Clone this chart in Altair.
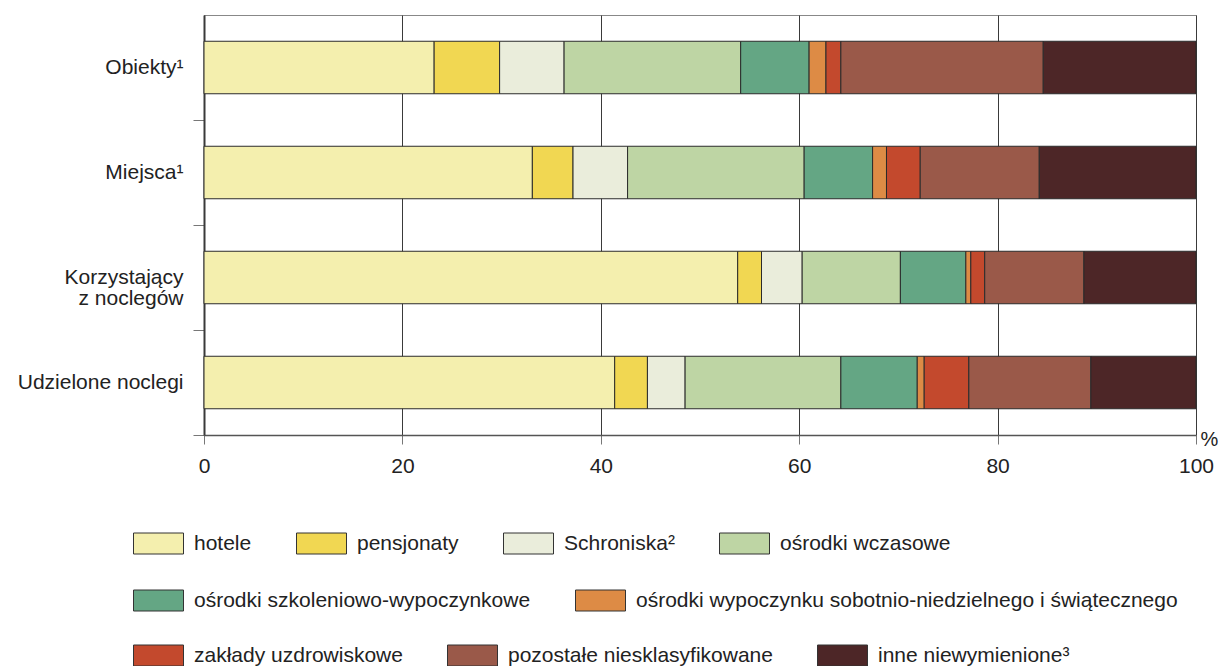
import altair as alt
import pandas as pd

categories = ["Obiekty¹", "Miejsca¹", "Korzystający\nz noclegów", "Udzielone noclegi"]
types = [
    "hotele",
    "pensjonaty",
    "Schroniska²",
    "ośrodki wczasowe",
    "ośrodki szkoleniowo-wypoczynkowe",
    "ośrodki wypoczynku sobotnio-niedzielnego i świątecznego",
    "zakłady uzdrowiskowe",
    "pozostałe niesklasyfikowane",
    "inne niewymienione³",
]
colors = ["#F4EFAE", "#F1D752", "#EAEDDB", "#BED5A4", "#64A684",
          "#DD8B45", "#C3492D", "#9A5949", "#4D2627"]

# shares (%) per category: Obiekty, Miejsca, Korzystający, Udzielone noclegi
hotele = [23.2, 33.1, 53.8, 41.4]
pensjonaty = [6.6, 4.1, 2.4, 3.3]
schroniska = [6.5, 5.5, 4.1, 3.8]
wczasowe = [17.8, 17.8, 9.9, 15.7]
szkoleniowe = [6.9, 6.9, 6.6, 7.7]
sobotnie = [1.7, 1.4, 0.5, 0.7]
uzdrowiskowe = [1.5, 3.4, 1.4, 4.5]
pozostale = [20.4, 12.0, 10.0, 12.3]
inne = [15.4, 15.8, 11.3, 10.6]
series = [hotele, pensjonaty, schroniska, wczasowe, szkoleniowe,
          sobotnie, uzdrowiskowe, pozostale, inne]

legend_groups = [[0, 1, 2, 3], [4, 5], [6, 7, 8]]
x_ticks = [0, 20, 40, 60, 80, 100]

rows = []
for ti, (t, vals) in enumerate(zip(types, series)):
    grp = [g for g, members in enumerate(legend_groups) if ti in members][0]
    for c, v in zip(categories, vals):
        rows.append({"kategoria": c, "typ": t, "udzial": v, "kolejnosc": ti, "grupa": grp})
df = pd.DataFrame(rows)

FONT = "Liberation Sans"
TXT = "#222222"
FS = 21

x_axis = alt.Axis(
    values=x_ticks, grid=True, gridColor="#3a3a3a", gridWidth=1,
    tickSize=9, tickColor="#777777", domainColor="#555555", domainWidth=1.5,
    labelFontSize=FS, labelPadding=11, labelColor=TXT, labelFlush=False,
    title="%", titleAngle=0, titleX=1005, titleY=4, titleBaseline="middle",
    titleAlign="center", titleFontWeight="normal", titleFontSize=20, titleColor=TXT,
)
y_axis = alt.Axis(
    title=None, labelExpr="split(datum.label, '\\n')", labelFontSize=FS,
    labelPadding=10, tickBand="center", tickOffset=52.5, labelOffset=-52.5,
    tickSize=11, tickColor="#777777",
    domainColor="#3a3a3a", domainWidth=2, labelColor=TXT, labelLimit=300,
    labelLineHeight=21, grid=False,
)

symbol_path = "M-1,-0.42H1V0.42H-1Z"
legend_x = -71
legend_ys = [503, 560, 615]

base = alt.Chart(df).transform_stack(
    stack="udzial", groupby=["kategoria"], as_=["x0", "x1"],
    sort=[alt.SortField("kolejnosc", order="ascending")],
)

layers = []
for g, members in enumerate(legend_groups):
    row_types = [types[i] for i in members]
    row_colors = [colors[i] for i in members]
    layer = base.transform_filter(alt.datum.grupa == g).mark_bar(
        stroke="#2b2b2b", strokeWidth=1
    ).encode(
        x=alt.X("x0:Q", scale=alt.Scale(domain=[0, 100], nice=False), axis=x_axis),
        x2="x1:Q",
        y=alt.Y("kategoria:N", sort=categories,
                scale=alt.Scale(paddingInner=0.5, paddingOuter=0.25), axis=y_axis),
        color=alt.Color(
            "typ:N",
            scale=alt.Scale(domain=row_types, range=row_colors),
            legend=alt.Legend(
                title=None, orient="none", legendX=legend_x, legendY=legend_ys[g],
                direction="horizontal", columns=len(row_types), gridAlign="none",
                columnPadding=42, padding=0, symbolType=symbol_path, symbolSize=2500,
                symbolStrokeColor="#333333", symbolStrokeWidth=1, symbolOpacity=1,
                labelFontSize=FS, labelOffset=10, labelColor=TXT, labelLimit=800,
            ),
        ),
    )
    layers.append(layer)

chart = alt.layer(*layers).resolve_scale(color="independent").properties(
    width=992, height=420,
    padding={"left": 196, "top": 7, "right": 23, "bottom": 231},
    autosize=alt.AutoSizeParams(type="none"),
).configure(font=FONT).configure_view(stroke="#888888", strokeWidth=1)

chart.save("out.html", embed_options={"renderer": "svg", "actions": False})
